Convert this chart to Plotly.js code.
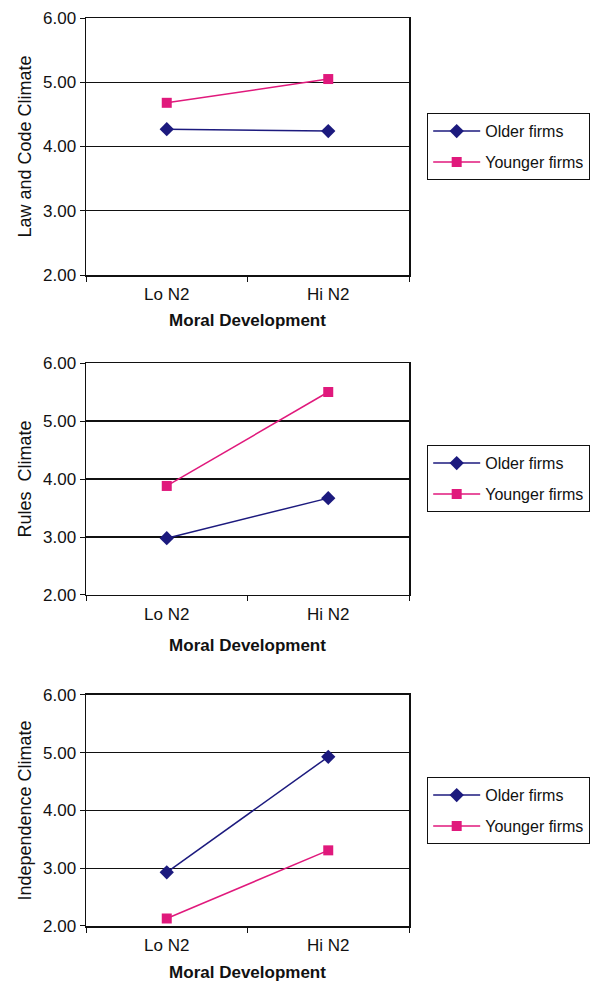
<!DOCTYPE html>
<html>
<head>
<meta charset="utf-8">
<script src="https://cdn.plot.ly/plotly-3.0.1.min.js"></script>
<style>html,body{margin:0;padding:0;background:#fff;}#chart{width:605px;height:982px;}</style>
</head>
<body>
<div id="chart"></div>
<script>
const categories = ["Lo N2", "Hi N2"];
const seriesNames = ["Older firms", "Younger firms"];
const panelTitles = ["Law and Code Climate", "Rules  Climate", "Independence Climate"];
const xTitle = "Moral Development";
const yTicks = [2, 3, 4, 5, 6];
const lawOlder = [4.27, 4.24];
const lawYounger = [4.68, 5.05];
const rulesOlder = [2.98, 3.67];
const rulesYounger = [3.88, 5.50];
const indepOlder = [2.93, 4.93];
const indepYounger = [2.13, 3.31];

const panels = [[lawOlder, lawYounger], [rulesOlder, rulesYounger], [indepOlder, indepYounger]];
const colors = ["#1c1a7e", "#e0197c"];
const symbols = ["diamond", "square"];
const sizes = [11, 10];
const font = "Liberation Sans, Arial, sans-serif";

const traces = [];
panels.forEach((p, i) => {
  p.forEach((vals, s) => {
    traces.push({
      x: categories, y: vals, type: "scatter", mode: "lines+markers",
      name: seriesNames[s],
      xaxis: i === 0 ? "x" : "x" + (i + 1),
      yaxis: i === 0 ? "y" : "y" + (i + 1),
      legend: i === 0 ? "legend" : "legend" + (i + 1),
      legendgroup: "g" + i + s,
      line: {color: colors[s], width: 1.5},
      marker: {color: colors[s], symbol: symbols[s], size: sizes[s]}
    });
  });
});

const yDomains = [[0.71696, 1.0], [0.36454, 0.62004], [0, 0.25441]];
const xStandoff = [11, 16, 14];
const legendY = [0.89537, 0.52974, 0.16410];
const layout = {
  width: 605, height: 982,
  margin: {l: 86, r: 196, t: 18, b: 56},
  paper_bgcolor: "#fff", plot_bgcolor: "#fff",
  font: {family: font, size: 17, color: "#111"},
  showlegend: true
};
for (let i = 0; i < 3; i++) {
  const xa = i === 0 ? "xaxis" : "xaxis" + (i + 1);
  const ya = i === 0 ? "yaxis" : "yaxis" + (i + 1);
  const xn = i === 0 ? "x" : "x" + (i + 1);
  const yn = i === 0 ? "y" : "y" + (i + 1);
  layout[xa] = {
    domain: [0, 1], anchor: yn, type: "category",
    range: [-0.5, 1.5], showline: true, mirror: true, linecolor: "#111", linewidth: 1.5,
    showgrid: false, ticks: "outside", tickson: "boundaries", ticklen: 5, tickcolor: "#111",
    ticklabelstandoff: 3,
    tickfont: {family: font, size: 17, color: "#111"},
    title: {text: "<b>" + xTitle + "</b>", font: {family: font, size: 17, color: "#111"}, standoff: xStandoff[i]},
    fixedrange: true
  };
  layout[ya] = {
    domain: yDomains[i], anchor: xn,
    range: [2, 6], tickvals: yTicks, tickformat: ".2f",
    showline: true, mirror: true, linecolor: "#111", linewidth: 1.5,
    showgrid: true, gridcolor: "#111", gridwidth: 1.2,
    ticks: "outside", ticklen: 5, tickcolor: "#111", zeroline: false,
    tickfont: {family: font, size: 17, color: "#111"},
    title: {text: panelTitles[i], font: {family: font, size: 18, color: "#111"}, standoff: 6},
    fixedrange: true
  };
  const ln = i === 0 ? "legend" : "legend" + (i + 1);
  layout[ln] = {
    x: 1.0557, y: legendY[i], xanchor: "left", yanchor: "top",
    bordercolor: "#111", borderwidth: 1.2, bgcolor: "#fff",
    font: {family: font, size: 16, color: "#111"},
    traceorder: "grouped", tracegroupgap: 7, itemwidth: 47
  };
}
Plotly.newPlot("chart", traces, layout, {staticPlot: true});
</script>
</body>
</html>
